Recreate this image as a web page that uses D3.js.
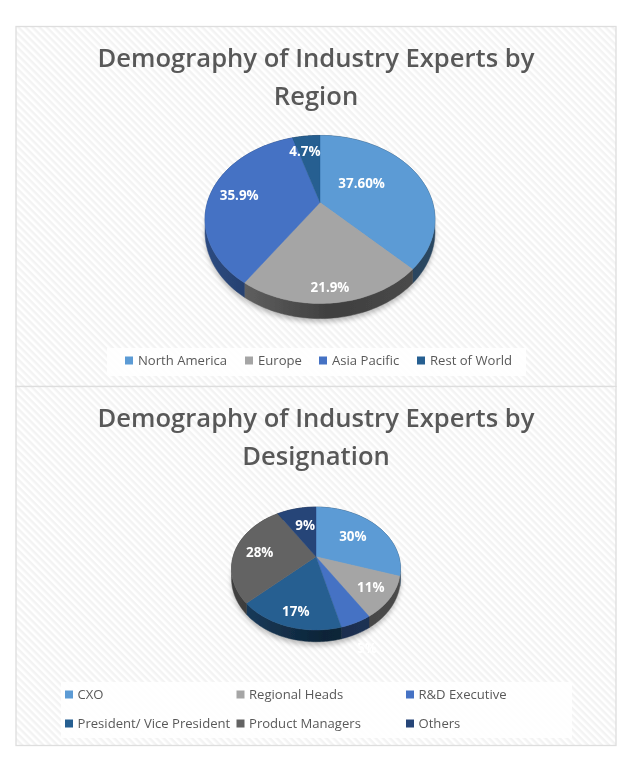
<!DOCTYPE html>
<html>
<head>
<meta charset="utf-8">
<style>html,body{margin:0;padding:0;background:#fff}svg{display:block}</style>
<script src="https://cdn.jsdelivr.net/npm/d3@7"></script>
</head>
<body>
<svg id="c" width="639" height="764"></svg>
<script>
// ---- data ----
const regionCategories = ["North America", "Europe", "Asia Pacific", "Rest of World"];
const regionValues = [37.6, 21.9, 35.9, 4.7];
const regionLabels = ["37.60%", "21.9%", "35.9%", "4.7%"];
const regionTitle = ["Demography of Industry Experts by", "Region"];

const designationCategories = ["CXO", "Regional Heads", "R&D Executive", "President/ Vice President", "Product Managers", "Others"];
const designationValues = [30, 11, 5, 17, 28, 9];
const designationLabels = ["30%", "11%", "5%", "17%", "28%", "9%"];
const designationTitle = ["Demography of Industry Experts by", "Designation"];

// ---- styles ----
const regionColors = ["#5B9BD5", "#A5A5A5", "#4472C4", "#255E91"];
const designationColors = ["#5B9BD5", "#A5A5A5", "#4472C4", "#255E91", "#636363", "#264478"];
const FONT = "'Open Sans','Noto Sans',sans-serif";
const TXT = "#595959";

const svg = d3.select("#c");
const defs = svg.append("defs");
const pat = defs.append("pattern").attr("id", "hatch").attr("width", 5).attr("height", 5)
  .attr("patternUnits", "userSpaceOnUse").attr("patternTransform", "rotate(45)");
pat.append("rect").attr("width", 5).attr("height", 5).attr("fill", "#fff");
pat.append("rect").attr("width", 5).attr("height", 2.5).attr("fill", "#f3f3f3");
defs.append("filter").attr("id", "soft").attr("x", "-20%").attr("y", "-20%").attr("width", "140%").attr("height", "140%")
  .append("feGaussianBlur").attr("stdDeviation", 2.5);
defs.append("filter").attr("id", "fine").attr("filterUnits", "userSpaceOnUse")
  .attr("x", 0).attr("y", 0).attr("width", 639).attr("height", 764)
  .append("feGaussianBlur").attr("stdDeviation", .45);

const root = svg.append("g").attr("filter", "url(#fine)");

function drawChart(o) {
  const g = root.append("g");
  g.append("rect").attr("x", o.box[0]).attr("y", o.box[1]).attr("width", o.box[2]).attr("height", o.box[3])
    .attr("fill", "url(#hatch)").attr("stroke", "#dedede").attr("stroke-width", 1.3);

  g.selectAll("text.title").data(o.title).join("text").attr("class", "title")
    .attr("x", 316).attr("y", (d, i) => o.titleY + i * 38)
    .attr("text-anchor", "middle").attr("font-family", FONT).attr("font-weight", 600)
    .attr("font-size", 25.6).attr("fill", TXT).text(d => d);

  // circle-to-screen perspective projection
  const project = (a, r, drop) => {
    const u = Math.sin(a) * r, v = -Math.cos(a) * r, w = 1 - o.k * v;
    return [o.cx + o.rx * u / w, o.cy + o.ry * v / w + (drop || 0) / w];
  };
  const line = d3.line();
  const rim = (a0, a1, drop) => d3.range(0, 61).map(i => project(a0 + (a1 - a0) * i / 60, 1, drop));

  const arcs = d3.pie().sort(null).value(d => d)(o.values);

  // soft shadow
  g.append("path").attr("d", line(rim(0, 2 * Math.PI, o.depth + 3)) + "Z")
    .attr("fill", "#000").attr("opacity", .25).attr("filter", "url(#soft)");

  // sides
  arcs.forEach((s, i) => {
    const id = o.id + "side" + i, c = o.colors[i];
    const gr = defs.append("linearGradient").attr("id", id).attr("gradientUnits", "userSpaceOnUse")
      .attr("x1", o.cx - o.rx).attr("x2", o.cx + o.rx).attr("y1", 0).attr("y2", 0);
    gr.append("stop").attr("offset", 0).attr("stop-color", d3.color(c).darker(1.2));
    gr.append("stop").attr("offset", .55).attr("stop-color", d3.color(c).darker(2.7));
    gr.append("stop").attr("offset", 1).attr("stop-color", d3.color(c).darker(2.2));
    const pts = rim(s.startAngle, s.endAngle, 0).concat(rim(s.startAngle, s.endAngle, o.depth).reverse());
    g.append("path").attr("d", line(pts) + "Z").attr("fill", `url(#${id})`)
      .attr("stroke", `url(#${id})`).attr("stroke-width", .5);
  });

  // top
  arcs.forEach((s, i) => {
    g.append("path").attr("d", line([project(0, 0)].concat(rim(s.startAngle, s.endAngle, 0))) + "Z")
      .attr("fill", o.colors[i]).attr("stroke", o.colors[i]).attr("stroke-width", .4);
  });

  // value labels
  arcs.forEach((s, i) => {
    const p = project((s.startAngle + s.endAngle) / 2, .62);
    g.append("text").attr("x", p[0] + o.nudge[i][0]).attr("y", p[1] + o.nudge[i][1])
      .attr("dy", ".36em").attr("text-anchor", "middle").attr("font-family", FONT)
      .attr("font-weight", 700).attr("font-size", 13.4).attr("fill", "#fff").text(o.labels[i]);
  });

  // legend
  g.append("rect").attr("x", o.legendBox[0]).attr("y", o.legendBox[1]).attr("width", o.legendBox[2]).attr("height", o.legendBox[3])
    .attr("fill", "#fff").attr("opacity", .85);
  o.categories.forEach((t, i) => {
    const [x, y] = o.legendAt[i];
    g.append("rect").attr("x", x).attr("y", y - 4).attr("width", 8).attr("height", 8).attr("fill", o.colors[i]);
    g.append("text").attr("x", x + o.legendGap).attr("y", y).attr("dy", ".35em").attr("font-family", FONT)
      .attr("font-size", 13.1).attr("fill", TXT).text(t);
  });
}

drawChart({
  id: "r", box: [16, 26.5, 600, 360], title: regionTitle, titleY: 67,
  values: regionValues, labels: regionLabels, categories: regionCategories, colors: regionColors,
  cx: 320, cy: 202.5, rx: 112.6, ry: 80.6, k: .202, depth: 12,
  nudge: [[-20, -1], [2.5, 28], [-13, 0], [-6, -7]],
  legendBox: [107, 348, 419, 28], legendGap: 13,
  legendAt: [[125, 360.5], [245, 360.5], [319, 360.5], [417, 360.5]]
});
drawChart({
  id: "d", box: [16, 386.5, 600, 359], title: designationTitle, titleY: 426.8,
  values: designationValues, labels: designationLabels, categories: designationCategories, colors: designationColors,
  cx: 316, cy: 556.7, rx: 82.9, ry: 59.2, k: .192, depth: 9.5,
  nudge: [[-2, 0], [11, 6], [28, 53.5], [-4, 14.5], [-6, 0], [2, 0]],
  legendBox: [61, 682, 511, 56], legendGap: 12.5,
  legendAt: [[65, 694.5], [236.5, 694.5], [406, 694.5], [65, 723.5], [236.5, 723.5], [406, 723.5]]
});
</script>
</body>
</html>
